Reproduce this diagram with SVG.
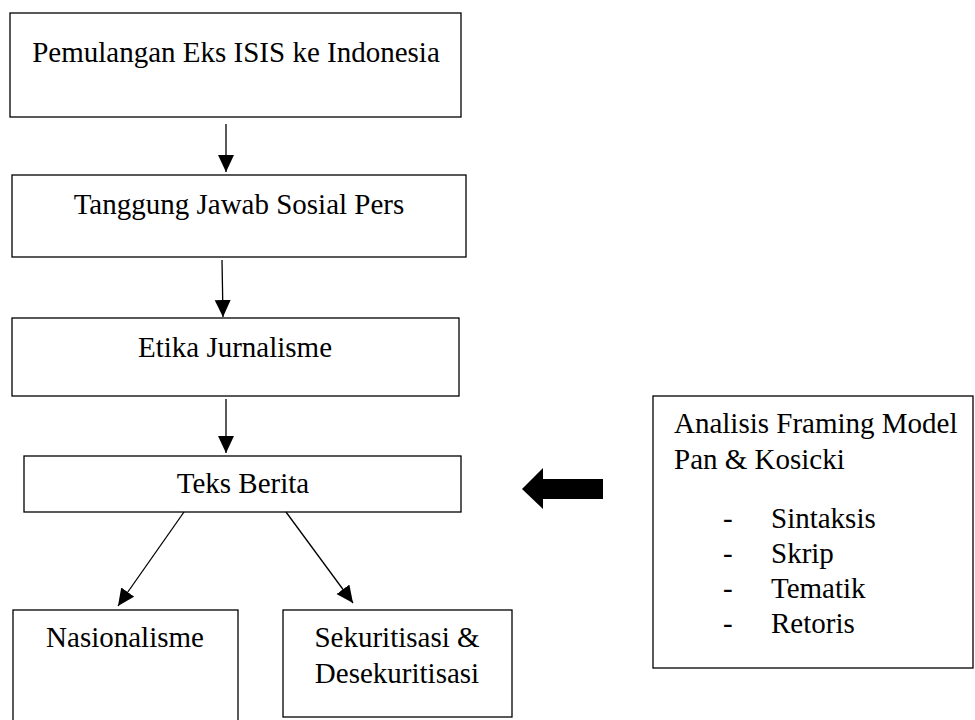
<svg xmlns="http://www.w3.org/2000/svg" width="975" height="720" viewBox="0 0 975 720">
<style>
.box{fill:#fff;stroke:#000;stroke-width:1.3}
.t{font-family:"Liberation Serif","Times New Roman",serif;font-size:29px;fill:#000}
.c{text-anchor:middle}
.ln{stroke:#000;stroke-width:1.3;fill:none}
</style>
<defs>
<marker id="ah" markerUnits="userSpaceOnUse" markerWidth="18" markerHeight="17" refX="17" refY="8" orient="auto">
<path d="M0,0 L17,8 L0,16 z" fill="#000"/>
</marker>
</defs>
<rect width="975" height="720" fill="#fff"/>
<g id="n1"><rect class="box" x="10" y="13" width="451" height="104"/><text class="t c" x="236" y="62">Pemulangan Eks ISIS ke Indonesia</text></g>
<g id="n2"><rect class="box" x="12" y="175" width="454" height="82"/><text class="t c" x="239" y="214">Tanggung Jawab Sosial Pers</text></g>
<g id="n3"><rect class="box" x="12" y="318" width="447" height="78"/><text class="t c" x="235" y="357">Etika Jurnalisme</text></g>
<g id="n4"><rect class="box" x="24" y="456" width="437" height="56"/><text class="t c" x="243" y="493">Teks Berita</text></g>
<g id="n5"><rect class="box" x="13" y="610" width="225" height="120"/><text class="t c" x="125" y="647">Nasionalisme</text></g>
<g id="n6"><rect class="box" x="283" y="610" width="229" height="107"/><text class="t c" x="397" y="647">Sekuritisasi &amp;</text><text class="t c" x="397" y="683">Desekuritisasi</text></g>
<g id="n7"><rect class="box" x="653" y="396" width="320" height="272"/>
<text class="t" x="674" y="433">Analisis Framing Model</text>
<text class="t" x="674" y="469">Pan &amp; Kosicki</text>
<text class="t" x="723" y="528">-</text><text class="t" x="771" y="528">Sintaksis</text>
<text class="t" x="723" y="563">-</text><text class="t" x="771" y="563">Skrip</text>
<text class="t" x="723" y="598">-</text><text class="t" x="771" y="598">Tematik</text>
<text class="t" x="723" y="633">-</text><text class="t" x="771" y="633">Retoris</text>
</g>
<g id="connectors">
<line class="ln" x1="226" y1="124" x2="226" y2="172" marker-end="url(#ah)"/>
<line class="ln" x1="222" y1="260" x2="223" y2="317" marker-end="url(#ah)"/>
<line class="ln" x1="226" y1="399" x2="226" y2="453" marker-end="url(#ah)"/>
<line class="ln" x1="184" y1="512" x2="118" y2="606" marker-end="url(#ah)"/>
<line class="ln" x1="286" y1="512" x2="353" y2="603" marker-end="url(#ah)"/>
<polygon points="522,489 543,468 543,479 603,479 603,499 543,499 543,509" fill="#000"/>
</g>
</svg>
